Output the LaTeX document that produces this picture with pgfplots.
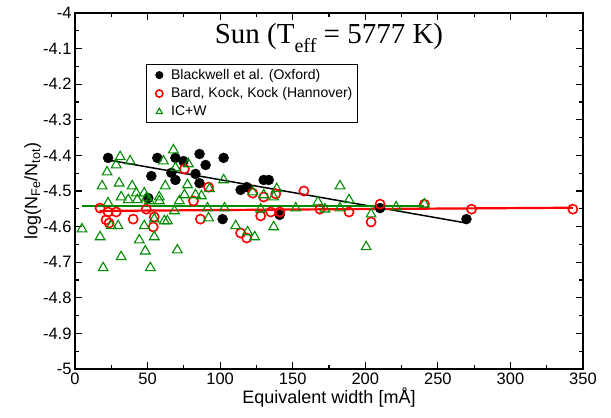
\documentclass[border=0pt]{standalone}
\usepackage{fontspec}
\setmainfont{Liberation Sans}
\newfontfamily\titlefont{Liberation Serif}
\usepackage{pgfplots}
\pgfplotsset{compat=1.18}
\definecolor{grgreen}{RGB}{0,140,0}
\begin{document}
\begin{tikzpicture}
\begin{axis}[
  width=508pt, height=356pt, scale only axis,
  xmin=0, xmax=350, ymin=-5, ymax=-4,
  xtick={0,50,...,350}, minor x tick num=1,
  ytick={-5,-4.9,-4.8,-4.7,-4.6,-4.5,-4.4,-4.3,-4.2,-4.1,-4},
  minor y tick num=1,
  yticklabels={-5,-4.9,-4.8,-4.7,-4.6,-4.5,-4.4,-4.3,-4.2,-4.1,-4},
  tick align=inside,
  major tick length=7pt, minor tick length=4pt,
  every tick/.style={black, line width=1.2pt},
  axis line style={line width=1.8pt},
  tick label style={font=\fontsize{16.5}{19}\selectfont},
  /pgf/number format/assume math mode=true,
  xlabel={Equivalent width [mÅ]},
  ylabel={log(N\textsubscript{Fe}/N\textsubscript{tot})},
  label style={font=\fontsize{18}{21}\selectfont},
  xlabel style={at={(axis description cs:0.5,-0.081)}, anchor=center},
  ylabel style={at={(axis description cs:-0.083,0.5)}, anchor=center},
  legend style={at={(0.14,0.857)}, anchor=north west, draw=black, line width=0.8pt,
    font=\fontsize{14}{17}\selectfont, row sep=2.8pt, inner xsep=3pt, inner ysep=3pt},
  legend cell align=left,
  legend image code/.code={\path (0pt,0pt) (18pt,0pt);
    \draw[#1, mark size=3.6pt] plot coordinates {(9pt,0pt)};},
  clip=false,
]
\addplot[only marks, mark=*, mark size=5pt, black] coordinates {
(22.8,-4.407) (56.7,-4.407) (69.2,-4.407) (74.7,-4.416) (85.8,-4.396)
(102.4,-4.407) (52.6,-4.458) (66.4,-4.449) (69.2,-4.469) (83.0,-4.452)
(90.0,-4.427) (85.8,-4.478) (50.5,-4.520) (101.7,-4.579) (114.1,-4.497)
(118.3,-4.489) (130.0,-4.469) (133.5,-4.469) (141.0,-4.567) (210.2,-4.548)
(269.7,-4.579)
};
\addlegendentry{Blackwell et al. (Oxford)}
\addplot[only marks, mark=o, mark size=4.6pt, red, line width=1.6pt] coordinates {
(17.3,-4.548) (22.8,-4.559) (28.4,-4.559) (21.4,-4.581) (23.5,-4.590)
(40.1,-4.579) (49.1,-4.551) (54.6,-4.573) (53.9,-4.601) (75.4,-4.438)
(81.6,-4.528) (86.4,-4.579) (92.0,-4.489) (114.1,-4.618) (118.3,-4.632)
(122.4,-4.506) (130.0,-4.517) (127.9,-4.570) (134.9,-4.559) (141.1,-4.559)
(138.3,-4.508) (157.7,-4.500) (168.7,-4.551) (188.8,-4.559) (204.0,-4.587)
(210.2,-4.537) (240.7,-4.537) (273.2,-4.551) (343.0,-4.551)
};
\addlegendentry{Bard, Kock, Kock (Hannover)}
\addplot[only marks, mark=triangle, mark size=5.6pt, grgreen, line width=1.1pt] coordinates {
(31.1,-4.404) (38.0,-4.416) (28.4,-4.427) (22.1,-4.447) (18.7,-4.486)
(30.4,-4.478) (39.4,-4.486) (42.2,-4.506) (31.8,-4.517) (36.7,-4.525)
(42.9,-4.525) (22.8,-4.534) (4.8,-4.607) (17.3,-4.629) (24.9,-4.598)
(29.7,-4.598) (44.3,-4.638) (31.8,-4.685) (19.4,-4.716) (49.1,-4.520)
(58.1,-4.517) (62.2,-4.486) (60.9,-4.416) (67.8,-4.385) (69.2,-4.435)
(47.7,-4.598) (54.6,-4.629) (54.6,-4.579) (48.4,-4.669) (51.9,-4.716)
(61.5,-4.584) (63.6,-4.584) (70.5,-4.666) (78.1,-4.424) (77.5,-4.483)
(75.4,-4.511) (47.7,-4.506) (51.2,-4.528) (58.1,-4.528) (68.5,-4.556)
(102.4,-4.469) (92.7,-4.494) (83.0,-4.511) (87.1,-4.514) (71.9,-4.528)
(103.0,-4.548) (91.3,-4.548) (92.0,-4.576) (110.7,-4.598) (118.9,-4.615)
(123.8,-4.629) (136.9,-4.601) (127.9,-4.551) (139.0,-4.494) (122.4,-4.503)
(130.0,-4.511) (136.9,-4.517) (152.1,-4.548) (167.4,-4.531) (172.2,-4.551)
(182.6,-4.486) (188.8,-4.525) (182.6,-4.548) (204.0,-4.565) (200.6,-4.657)
(221.3,-4.545) (240.7,-4.537)
};
\addlegendentry{IC+W}
\addplot[forget plot, black, line width=1.5pt] coordinates {(22.8,-4.413) (269.7,-4.590)};
\addplot[forget plot, red, line width=2.2pt] coordinates {(17,-4.556) (150,-4.552) (343,-4.547)};
\addplot[forget plot, grgreen, line width=2.2pt] coordinates {(5,-4.543) (240.7,-4.543)};
\node[anchor=base, font=\titlefont\fontsize{29}{33}\selectfont] at (axis cs:175,-4.087)
  {Sun (T\raisebox{-0.3em}{\fontsize{20}{20}\selectfont eff} = 5777 K)};
\coordinate (ll) at (rel axis cs:0,0);
\coordinate (ur) at (rel axis cs:1,1);
\end{axis}
\pgfresetboundingbox
\path[use as bounding box] ([shift={(-75pt,-48pt)}]ll) rectangle ([shift={(28pt,13pt)}]ur);
\end{tikzpicture}
\end{document}
